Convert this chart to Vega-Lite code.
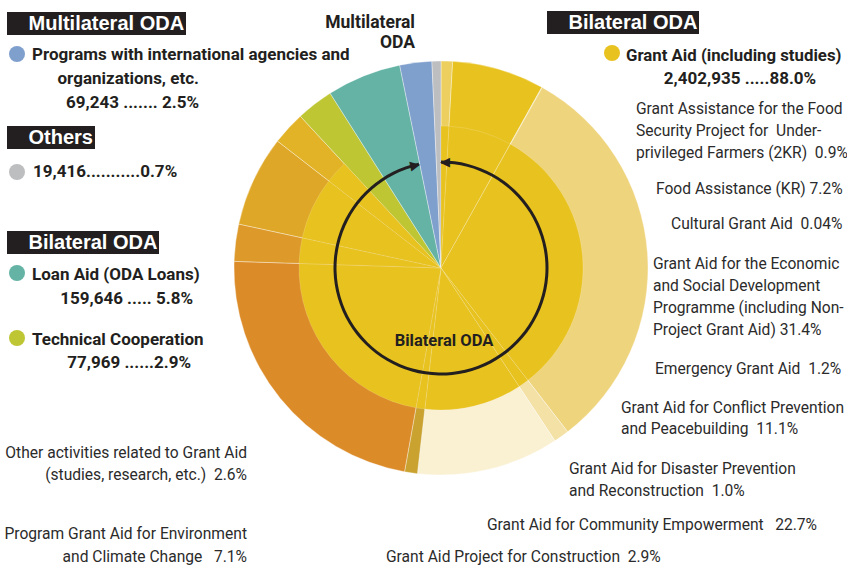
{
  "$schema": "https://vega.github.io/schema/vega-lite/v6.json",
  "width": 812,
  "height": 536,
  "autosize": "none",
  "padding": {"left": 35, "top": 0, "right": 0, "bottom": 34},
  "background": "#ffffff",
  "config": {
    "view": {"stroke": null},
    "text": {"font": "Roboto", "fontSize": 15.6, "fill": "#2b2b2b"}
  },
  "datasets": {
    "oda": [
      {"idx": 1, "key": "2KR", "group": "Grant Aid", "share": 0.9, "label": "Grant Assistance for the Food\nSecurity Project for\u00a0 Under-\nprivileged Farmers (2KR)\u00a0 0.9%"},
      {"idx": 2, "key": "Food", "group": "Grant Aid", "share": 7.2, "label": "Food Assistance (KR) 7.2%"},
      {"idx": 3, "key": "Cultural", "group": "Grant Aid", "share": 0.04, "label": "Cultural Grant Aid\u00a0 0.04%"},
      {"idx": 4, "key": "Economic", "group": "Grant Aid", "share": 31.4, "label": "Grant Aid for the Economic\nand Social Development\nProgramme (including Non-\nProject Grant Aid) 31.4%"},
      {"idx": 5, "key": "Emergency", "group": "Grant Aid", "share": 1.2, "label": "Emergency Grant Aid\u00a0 1.2%"},
      {"idx": 6, "key": "Conflict", "group": "Grant Aid", "share": 11.1, "label": "Grant Aid for Conflict Prevention\nand Peacebuilding\u00a0 11.1%"},
      {"idx": 7, "key": "Disaster", "group": "Grant Aid", "share": 1.0, "label": "Grant Aid for Disaster Prevention\nand Reconstruction\u00a0 1.0%"},
      {"idx": 8, "key": "Community", "group": "Grant Aid", "share": 22.7, "label": "Grant Aid for Community Empowerment\u00a0\u00a0 22.7%"},
      {"idx": 9, "key": "Construction", "group": "Grant Aid", "share": 2.9, "label": "Grant Aid Project for Construction\u00a0 2.9%"},
      {"idx": 10, "key": "Environment", "group": "Grant Aid", "share": 7.1, "label": "Program Grant Aid for Environment\nand Climate Change\u00a0\u00a0 7.1%"},
      {"idx": 11, "key": "Other", "group": "Grant Aid", "share": 2.6, "label": "Other activities related to Grant Aid\n(studies, research, etc.)\u00a0 2.6%"},
      {"idx": 12, "key": "Technical", "group": "Bilateral ODA", "share": 2.9, "amount": 77969, "label": "Technical Cooperation", "value": "77,969 ......2.9%"},
      {"idx": 13, "key": "Loan", "group": "Bilateral ODA", "share": 5.8, "amount": 159646, "label": "Loan Aid (ODA Loans)", "value": "159,646 ..... 5.8%"},
      {"idx": 14, "key": "Multilateral", "group": "Multilateral ODA", "share": 2.5, "amount": 69243, "label": "Programs with international agencies and", "value": "organizations, etc.\n69,243 ....... 2.5%"},
      {"idx": 15, "key": "Others", "group": "Others", "share": 0.7, "amount": 19416, "label": "19,416...........0.7%"}
    ],
    "span": [
      {"name": "Bilateral ODA", "start": 0, "end": 96.7}
    ],
    "notes": [
      {"id": "grantTitle", "text": "Grant Aid (including studies)"},
      {"id": "grantValue", "text": "2,402,935 .....88.0%"},
      {"id": "topMulti", "text": "Multilateral\nODA"},
      {"id": "center", "text": "Bilateral ODA"},
      {"id": "h1", "text": "Multilateral ODA"},
      {"id": "h2", "text": "Others"},
      {"id": "h3", "text": "Bilateral ODA"},
      {"id": "h4", "text": "Bilateral ODA"}
    ]
  },
  "layer": [
    {
      "data": {"name": "oda"},
      "mark": {"type": "arc", "outerRadius": 207, "stroke": "#ffffff", "strokeWidth": 0.8, "strokeOpacity": 0.45},
      "encoding": {
        "theta": {"field": "share", "type": "quantitative", "stack": true},
        "order": {"field": "idx", "type": "quantitative", "sort": "ascending"},
        "color": {
          "field": "key", "type": "nominal", "legend": null,
          "scale": {
            "domain": ["2KR", "Food", "Cultural", "Economic", "Emergency", "Conflict", "Disaster", "Community", "Construction", "Environment", "Other", "Technical", "Loan", "Multilateral", "Others"],
            "range": ["#eccf5e", "#e8c21f", "#ebc94a", "#efd47e", "#f3e1a6", "#faf0d2", "#c9a22f", "#dc8b29", "#dd9a2a", "#dfa727", "#e2b326", "#bfc634", "#64b3a5", "#7f9fcd", "#bdbec0"]
          }
        }
      }
    },
    {
      "data": {"name": "oda"},
      "mark": {"type": "arc", "outerRadius": 142, "fill": "#e8c21f", "stroke": "#ffffff", "strokeWidth": 0.7, "strokeOpacity": 0.22},
      "encoding": {
        "theta": {"field": "share", "type": "quantitative", "stack": true},
        "order": {"field": "idx", "type": "quantitative", "sort": "ascending"},
        "opacity": {"condition": {"test": "datum.group === 'Grant Aid'", "value": 1}, "value": 0}
      }
    },
    {
      "data": {"name": "span"},
      "mark": {"type": "arc", "innerRadius": 104.5, "outerRadius": 107.5, "fill": "#231f20"},
      "encoding": {
        "theta": {"field": "start", "type": "quantitative", "stack": null},
        "theta2": {"field": "end"}
      }
    },
    {
      "data": {"name": "span"},
      "mark": {"type": "text", "text": "◀", "font": "DejaVu Sans", "fontSize": 13, "radius": 106, "align": "center", "baseline": "middle", "dx": 4, "fill": "#231f20"},
      "encoding": {"theta": {"field": "start", "type": "quantitative", "stack": null}}
    },
    {
      "data": {"name": "span"},
      "mark": {"type": "text", "text": "▶", "font": "DejaVu Sans", "fontSize": 13, "radius": 106, "align": "center", "baseline": "middle", "angle": 348, "dx": -4, "fill": "#231f20"},
      "encoding": {"theta": {"field": "end", "type": "quantitative", "stack": null}}
    },
    {
      "data": {"name": "oda"}, "transform": [{"filter": "datum.key === '2KR'"}],
      "mark": {"type": "text", "align": "left", "baseline": "alphabetic", "lineBreak": "\n", "lineHeight": 22, "dx": 195, "dy": -154.5},
      "encoding": {"text": {"field": "label"}}
    },
    {
      "data": {"name": "oda"}, "transform": [{"filter": "datum.key === 'Food'"}],
      "mark": {"type": "text", "align": "left", "baseline": "alphabetic", "dx": 215, "dy": -74.5},
      "encoding": {"text": {"field": "label"}}
    },
    {
      "data": {"name": "oda"}, "transform": [{"filter": "datum.key === 'Cultural'"}],
      "mark": {"type": "text", "align": "left", "baseline": "alphabetic", "dx": 230, "dy": -39.5},
      "encoding": {"text": {"field": "label"}}
    },
    {
      "data": {"name": "oda"}, "transform": [{"filter": "datum.key === 'Economic'"}],
      "mark": {"type": "text", "align": "left", "baseline": "alphabetic", "lineBreak": "\n", "lineHeight": 22.3, "dx": 212, "dy": 0.5},
      "encoding": {"text": {"field": "label"}}
    },
    {
      "data": {"name": "oda"}, "transform": [{"filter": "datum.key === 'Emergency'"}],
      "mark": {"type": "text", "align": "left", "baseline": "alphabetic", "dx": 214, "dy": 105.5},
      "encoding": {"text": {"field": "label"}}
    },
    {
      "data": {"name": "oda"}, "transform": [{"filter": "datum.key === 'Conflict'"}],
      "mark": {"type": "text", "align": "left", "baseline": "alphabetic", "lineBreak": "\n", "lineHeight": 21.5, "dx": 180, "dy": 144.5},
      "encoding": {"text": {"field": "label"}}
    },
    {
      "data": {"name": "oda"}, "transform": [{"filter": "datum.key === 'Disaster'"}],
      "mark": {"type": "text", "align": "left", "baseline": "alphabetic", "lineBreak": "\n", "lineHeight": 22, "dx": 128, "dy": 205.5},
      "encoding": {"text": {"field": "label"}}
    },
    {
      "data": {"name": "oda"}, "transform": [{"filter": "datum.key === 'Community'"}],
      "mark": {"type": "text", "align": "left", "baseline": "alphabetic", "dx": 46, "dy": 261.5},
      "encoding": {"text": {"field": "label"}}
    },
    {
      "data": {"name": "oda"}, "transform": [{"filter": "datum.key === 'Construction'"}],
      "mark": {"type": "text", "align": "left", "baseline": "alphabetic", "dx": -55, "dy": 293.5},
      "encoding": {"text": {"field": "label"}}
    },
    {
      "data": {"name": "oda"}, "transform": [{"filter": "datum.key === 'Environment'"}],
      "mark": {"type": "text", "align": "right", "baseline": "alphabetic", "lineBreak": "\n", "lineHeight": 23, "dx": -194, "dy": 270.5},
      "encoding": {"text": {"field": "label"}}
    },
    {
      "data": {"name": "oda"}, "transform": [{"filter": "datum.key === 'Other'"}],
      "mark": {"type": "text", "align": "right", "baseline": "alphabetic", "lineBreak": "\n", "lineHeight": 22, "dx": -194, "dy": 189.5},
      "encoding": {"text": {"field": "label"}}
    },
    {
      "data": {"name": "oda"}, "transform": [{"filter": "datum.key === 'Multilateral'"}],
      "mark": {"type": "text", "align": "left", "baseline": "alphabetic", "fontWeight": "bold", "fontSize": 17, "fill": "#231f20", "dx": -409, "dy": -208},
      "encoding": {"text": {"field": "label"}}
    },
    {
      "data": {"name": "oda"}, "transform": [{"filter": "datum.key === 'Multilateral'"}],
      "mark": {"type": "text", "align": "right", "baseline": "alphabetic", "fontWeight": "bold", "fontSize": 17, "fill": "#231f20", "lineBreak": "\n", "lineHeight": 24, "dx": -242, "dy": -184},
      "encoding": {"text": {"field": "value"}}
    },
    {
      "data": {"name": "oda"}, "transform": [{"filter": "datum.key === 'Others'"}],
      "mark": {"type": "text", "align": "left", "baseline": "alphabetic", "fontWeight": "bold", "fontSize": 17, "fill": "#231f20", "dx": -408, "dy": -91},
      "encoding": {"text": {"field": "label"}}
    },
    {
      "data": {"name": "oda"}, "transform": [{"filter": "datum.key === 'Loan'"}],
      "mark": {"type": "text", "align": "left", "baseline": "alphabetic", "fontWeight": "bold", "fontSize": 17, "fill": "#231f20", "dx": -409, "dy": 12},
      "encoding": {"text": {"field": "label"}}
    },
    {
      "data": {"name": "oda"}, "transform": [{"filter": "datum.key === 'Loan'"}],
      "mark": {"type": "text", "align": "right", "baseline": "alphabetic", "fontWeight": "bold", "fontSize": 17, "fill": "#231f20", "dx": -248, "dy": 36},
      "encoding": {"text": {"field": "value"}}
    },
    {
      "data": {"name": "oda"}, "transform": [{"filter": "datum.key === 'Technical'"}],
      "mark": {"type": "text", "align": "left", "baseline": "alphabetic", "fontWeight": "bold", "fontSize": 17, "fill": "#231f20", "dx": -409, "dy": 77},
      "encoding": {"text": {"field": "label"}}
    },
    {
      "data": {"name": "oda"}, "transform": [{"filter": "datum.key === 'Technical'"}],
      "mark": {"type": "text", "align": "right", "baseline": "alphabetic", "fontWeight": "bold", "fontSize": 17, "fill": "#231f20", "dx": -250, "dy": 100},
      "encoding": {"text": {"field": "value"}}
    },
    {
      "data": {"name": "notes"}, "transform": [{"filter": "datum.id === 'grantTitle'"}],
      "mark": {"type": "text", "align": "left", "baseline": "alphabetic", "fontWeight": "bold", "fontSize": 16.8, "fill": "#231f20", "dx": 185, "dy": -207},
      "encoding": {"text": {"field": "text"}}
    },
    {
      "data": {"name": "notes"}, "transform": [{"filter": "datum.id === 'grantValue'"}],
      "mark": {"type": "text", "align": "center", "baseline": "alphabetic", "fontWeight": "bold", "fontSize": 17, "fill": "#231f20", "dx": 299, "dy": -184},
      "encoding": {"text": {"field": "text"}}
    },
    {
      "data": {"name": "notes"}, "transform": [{"filter": "datum.id === 'topMulti'"}],
      "mark": {"type": "text", "align": "right", "baseline": "alphabetic", "fontWeight": "bold", "fontSize": 17.5, "fill": "#231f20", "lineBreak": "\n", "lineHeight": 20, "dx": -26, "dy": -240},
      "encoding": {"text": {"field": "text"}}
    },
    {
      "data": {"name": "notes"}, "transform": [{"filter": "datum.id === 'center'"}],
      "mark": {"type": "text", "align": "center", "baseline": "alphabetic", "fontWeight": "bold", "fontSize": 16.5, "fill": "#231f20", "dx": 3, "dy": 78},
      "encoding": {"text": {"field": "text"}}
    },
    {
      "data": {"name": "notes"}, "transform": [{"filter": "datum.id === 'h1'"}],
      "mark": {"type": "text", "text": ""},
      "encoding": {"fill": {"field": "text", "type": "nominal", "scale": {"range": ["#231f20"]},
        "legend": {"orient": "none", "legendX": -28, "legendY": 12, "title": null, "fillColor": "#231f20", "padding": 1.5, "symbolSize": 0, "symbolOpacity": 0, "symbolStrokeWidth": 0, "labelOffset": 0, "labelColor": "#ffffff", "labelFont": "Liberation Sans", "labelFontSize": 20, "labelFontWeight": "bold", "labelLimit": 0}}}
    },
    {
      "data": {"name": "notes"}, "transform": [{"filter": "datum.id === 'h2'"}],
      "mark": {"type": "text", "text": ""},
      "encoding": {"fill": {"field": "text", "type": "nominal", "scale": {"range": ["#231f20"]},
        "legend": {"orient": "none", "legendX": -28, "legendY": 126, "title": null, "fillColor": "#231f20", "padding": 1.5, "symbolSize": 0, "symbolOpacity": 0, "symbolStrokeWidth": 0, "labelOffset": 0, "labelColor": "#ffffff", "labelFont": "Liberation Sans", "labelFontSize": 20, "labelFontWeight": "bold", "labelLimit": 0}}}
    },
    {
      "data": {"name": "notes"}, "transform": [{"filter": "datum.id === 'h3'"}],
      "mark": {"type": "text", "text": ""},
      "encoding": {"fill": {"field": "text", "type": "nominal", "scale": {"range": ["#231f20"]},
        "legend": {"orient": "none", "legendX": -28, "legendY": 231, "title": null, "fillColor": "#231f20", "padding": 1.5, "symbolSize": 0, "symbolOpacity": 0, "symbolStrokeWidth": 0, "labelOffset": 0, "labelColor": "#ffffff", "labelFont": "Liberation Sans", "labelFontSize": 20, "labelFontWeight": "bold", "labelLimit": 0}}}
    },
    {
      "data": {"name": "notes"}, "transform": [{"filter": "datum.id === 'h4'"}],
      "mark": {"type": "text", "text": ""},
      "encoding": {"fill": {"field": "text", "type": "nominal", "scale": {"range": ["#231f20"]},
        "legend": {"orient": "none", "legendX": 512, "legendY": 11, "title": null, "fillColor": "#231f20", "padding": 1.5, "symbolSize": 0, "symbolOpacity": 0, "symbolStrokeWidth": 0, "labelOffset": 0, "labelColor": "#ffffff", "labelFont": "Liberation Sans", "labelFontSize": 20, "labelFontWeight": "bold", "labelLimit": 0}}}
    },
    {
      "data": {"name": "oda"}, "transform": [{"filter": "datum.key === 'Multilateral'"}],
      "mark": {"type": "text", "text": ""},
      "encoding": {"fill": {"field": "key", "type": "nominal", "scale": {"range": ["#7f9fcd"]},
        "legend": {"orient": "none", "legendX": -26, "legendY": 46, "title": null, "padding": 0, "symbolType": "circle", "symbolSize": 256, "symbolStrokeWidth": 0, "labelExpr": "''", "labelOffset": 0, "labelFontSize": 1}}}
    },
    {
      "data": {"name": "oda"}, "transform": [{"filter": "datum.key === 'Others'"}],
      "mark": {"type": "text", "text": ""},
      "encoding": {"fill": {"field": "key", "type": "nominal", "scale": {"range": ["#bdbec0"]},
        "legend": {"orient": "none", "legendX": -26, "legendY": 164, "title": null, "padding": 0, "symbolType": "circle", "symbolSize": 256, "symbolStrokeWidth": 0, "labelExpr": "''", "labelOffset": 0, "labelFontSize": 1}}}
    },
    {
      "data": {"name": "oda"}, "transform": [{"filter": "datum.key === 'Loan'"}],
      "mark": {"type": "text", "text": ""},
      "encoding": {"fill": {"field": "key", "type": "nominal", "scale": {"range": ["#64b3a5"]},
        "legend": {"orient": "none", "legendX": -26, "legendY": 265, "title": null, "padding": 0, "symbolType": "circle", "symbolSize": 256, "symbolStrokeWidth": 0, "labelExpr": "''", "labelOffset": 0, "labelFontSize": 1}}}
    },
    {
      "data": {"name": "oda"}, "transform": [{"filter": "datum.key === 'Technical'"}],
      "mark": {"type": "text", "text": ""},
      "encoding": {"fill": {"field": "key", "type": "nominal", "scale": {"range": ["#bfc634"]},
        "legend": {"orient": "none", "legendX": -26, "legendY": 330, "title": null, "padding": 0, "symbolType": "circle", "symbolSize": 256, "symbolStrokeWidth": 0, "labelExpr": "''", "labelOffset": 0, "labelFontSize": 1}}}
    },
    {
      "data": {"name": "notes"}, "transform": [{"filter": "datum.id === 'grantTitle'"}],
      "mark": {"type": "text", "text": ""},
      "encoding": {"fill": {"field": "id", "type": "nominal", "scale": {"range": ["#e8c21f"]},
        "legend": {"orient": "none", "legendX": 569, "legendY": 45, "title": null, "padding": 0, "symbolType": "circle", "symbolSize": 256, "symbolStrokeWidth": 0, "labelExpr": "''", "labelOffset": 0, "labelFontSize": 1}}}
    }
  ],
  "resolve": {"scale": {"fill": "independent"}, "legend": {"fill": "independent"}}
}
